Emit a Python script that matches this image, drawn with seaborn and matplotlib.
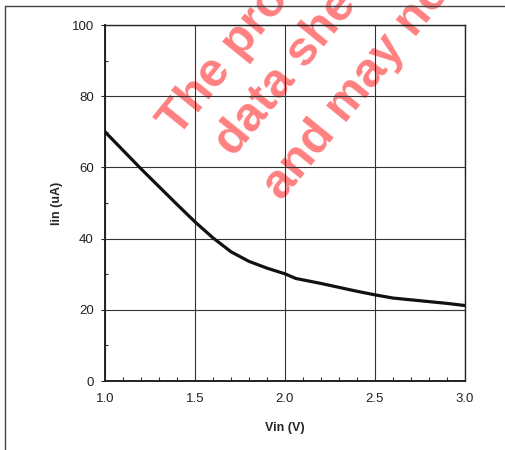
import matplotlib
matplotlib.use("Agg")
import matplotlib.pyplot as plt
import seaborn as sns
import pandas as pd
import numpy as np
from matplotlib.ticker import MultipleLocator

vin = [1.0, 1.1, 1.2, 1.3, 1.4, 1.5, 1.6, 1.7, 1.8, 1.9, 2.0, 2.06, 2.2, 2.3, 2.4, 2.5, 2.6, 2.7, 2.8, 2.9, 3.0]
iin = [70.0, 64.8, 59.6, 54.6, 49.6, 44.7, 40.2, 36.3, 33.6, 31.7, 30.1, 28.8, 27.4, 26.3, 25.2, 24.2, 23.3, 22.8, 22.3, 21.8, 21.2]
x_ticks = [1.0, 1.5, 2.0, 2.5, 3.0]
x_tick_labels = ["1.0", "1.5", "2.0", "2.5", "3.0"]
y_ticks = [0, 20, 40, 60, 80, 100]
watermark = ["The pro", "data shee", "and may no"]

sns.set_style("white")
plt.rcParams['font.family'] = ['Liberation Sans', 'DejaVu Sans']

df = pd.DataFrame({"Vin (V)": vin, "Iin (uA)": iin})

fig = plt.figure(figsize=(5.05, 4.5), dpi=100, facecolor='white')
ax = fig.add_axes([105/505, 1-381/450, 360/505, 356/450])
ax.set_facecolor('none')

sns.lineplot(data=df, x="Vin (V)", y="Iin (uA)", ax=ax, color='#111111', linewidth=2.3, zorder=5)

ax.set_xlim(1.0, 3.0)
ax.set_ylim(0, 100)
ax.set_xticks(x_ticks)
ax.set_xticklabels(x_tick_labels)
ax.set_yticks(y_ticks)
ax.xaxis.set_minor_locator(MultipleLocator(0.1))
ax.yaxis.set_minor_locator(MultipleLocator(10))
ax.grid(True, which='major', color='#333333', linewidth=0.8)
for s in ax.spines.values():
    s.set_visible(True)
    s.set_color('#222222')
    s.set_linewidth(1.0)
ax.spines['left'].set_linewidth(1.4)
ax.spines['bottom'].set_linewidth(1.4)
ax.tick_params(axis='x', which='major', length=0, pad=9, labelsize=9.5, colors='#222222')
ax.tick_params(axis='x', which='minor', direction='in', length=3, width=0.8, color='#333333', bottom=True)
ax.tick_params(axis='y', which='major', direction='out', length=3, width=0.8, pad=5, labelsize=9.5, colors='#222222', left=True)
ax.tick_params(axis='y', which='minor', direction='in', length=2, width=0.8, color='#333333', left=True)
ax.set_xlabel("Vin (V)", fontsize=9, fontweight='bold', labelpad=12)
ax.set_ylabel("Iin (uA)", fontsize=9, fontweight='bold', labelpad=6)

starts = [(178, 138), (234, 158), (282, 202)]
for t, (px, py) in zip(watermark, starts):
    fig.text(px/505, 1-py/450, t, rotation=51, rotation_mode='anchor', ha='left', va='baseline',
             fontsize=35, fontweight='bold', color='#ff8080', zorder=-1)

fig.add_artist(plt.Line2D([4.5/505, 4.5/505], [0, 1-6/450], transform=fig.transFigure, color='#444444', linewidth=1.0, zorder=10))
fig.add_artist(plt.Line2D([4.5/505, 1], [1-6/450, 1-6/450], transform=fig.transFigure, color='#444444', linewidth=1.0, zorder=10))

fig.savefig("out.png", dpi=100, facecolor='white')
